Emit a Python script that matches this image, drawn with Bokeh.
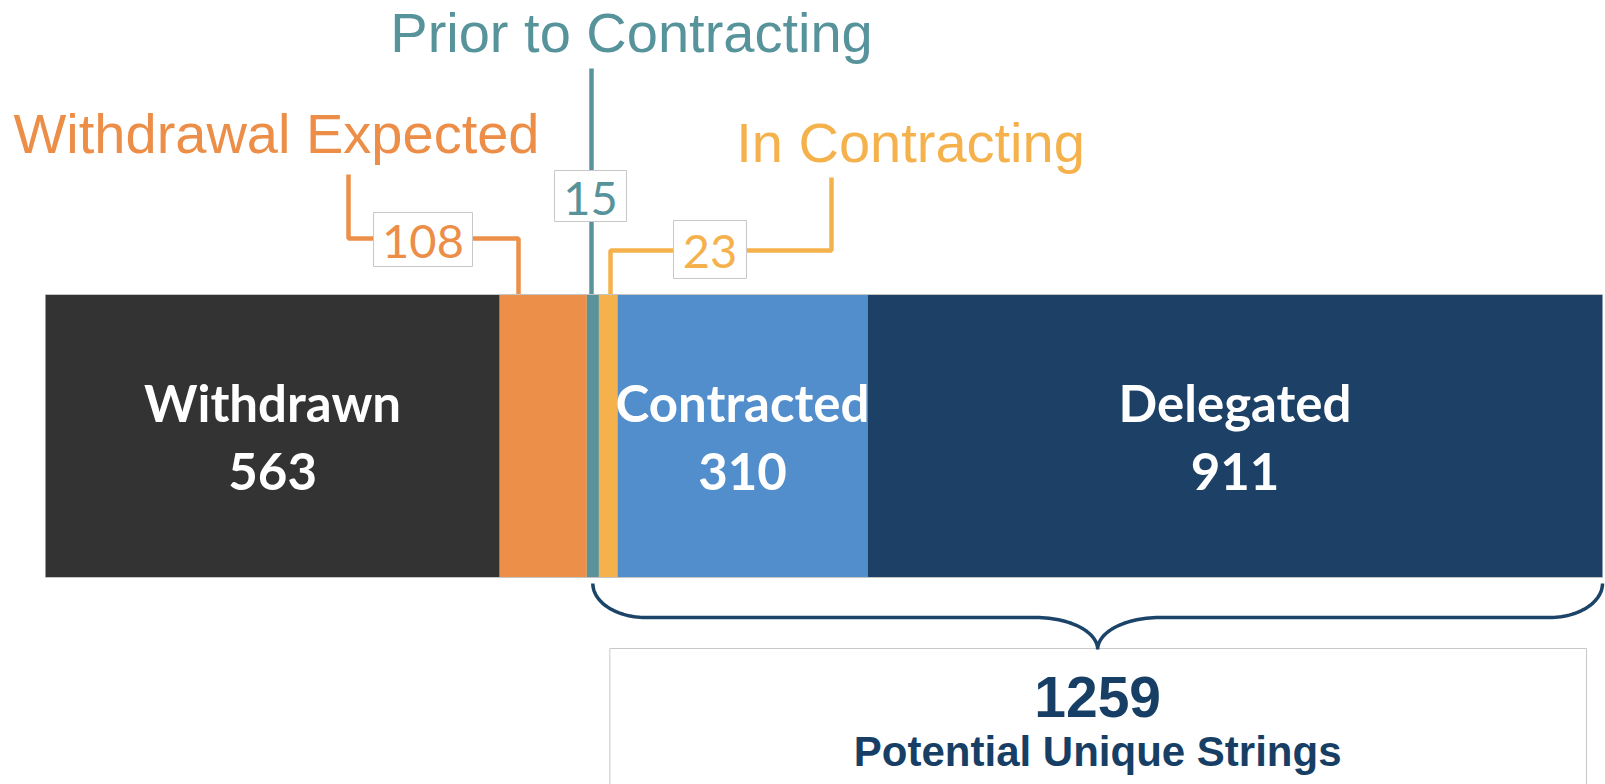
import numpy as np
from bokeh.plotting import figure
from bokeh.models import Range1d
from bokeh.core.properties import value
from bokeh.embed import file_html
from bokeh.resources import INLINE

# ---------------- data ----------------
categories = ["Withdrawn", "Withdrawal Expected", "Prior to Contracting",
              "In Contracting", "Contracted", "Delegated"]
counts = [563, 108, 15, 23, 310, 911]
bar_colors = ["#333333", "#EC9049", "#5A9399", "#F5B24C", "#528ECC", "#1D4066"]
inside_labels = ["Withdrawn", "Contracted", "Delegated"]          # drawn inside the bar
callout_labels = ["Withdrawal Expected", "Prior to Contracting", "In Contracting"]
callout_text_colors = ["#EC8E48", "#56939A", "#F5B24C"]
total_caption = "Potential Unique Strings"
bracket_from = "Prior to Contracting"   # the bracket covers this and all later segments

# ---------------- layout ----------------
W, H = 1605, 784
LEFT_PX, RIGHT_PX = 45, 1602
total = sum(counts)
k = (RIGHT_PX - LEFT_PX) / total
x0 = -LEFT_PX / k
x1 = x0 + W / k


def X(px):
    return x0 + px / k


p = figure(width=W, height=H, output_backend="svg", toolbar_location=None,
           x_range=Range1d(x0, x1), y_range=Range1d(H, 0),
           min_border=0, outline_line_color=None, background_fill_color="white")
p.axis.visible = False
p.grid.visible = False

ends = np.cumsum(counts)
starts = ends - np.array(counts)

BAR_TOP, BAR_BOT = 294, 577

# ---------------- callouts (leaders, boxes, numbers, titles) ----------------
callouts = {
    "Withdrawal Expected": dict(title=(276, 133),
                               path=[(348, 174), (348, 238), (518, 238), (518, BAR_TOP)],
                               box=(373, 472, 212, 266)),
    "Prior to Contracting": dict(title=(631, 32),
                                path=[(591, 68), (591, BAR_TOP)],
                                box=(554, 626, 170, 221)),
    "In Contracting": dict(title=(910, 142),
                          path=[(610, BAR_TOP), (610, 250), (831, 250), (831, 177)],
                          box=(673, 746, 220, 278)),
}

for lab, tcol in zip(callout_labels, callout_text_colors):
    i = categories.index(lab)
    c = callouts[lab]
    xs = [X(a) for a, b in c["path"]]
    ys = [b for a, b in c["path"]]
    p.line(xs, ys, line_color=bar_colors[i], line_width=4.5)
    l, r, t, b = c["box"]
    p.quad(left=[X(l)], right=[X(r)], top=[t], bottom=[b], fill_color="white",
           line_color="#c8c8c8", line_width=1)
    p.text(x=[X((l + r) / 2)], y=[(t + b) / 2 + 2], text=[str(counts[i])],
           text_color=tcol, text_font=value("Lato"), text_font_size="47px",
           text_align="center", text_baseline="middle")
    tx, ty = c["title"]
    p.text(x=[X(tx)], y=[ty], text=[lab], text_color=tcol,
           text_font=value("Liberation Sans"), text_font_size="56px",
           text_align="center", text_baseline="alphabetic")

# ---------------- stacked bar ----------------
p.hbar(y=[(BAR_TOP + BAR_BOT) / 2] * len(counts), left=starts, right=ends,
       height=BAR_BOT - BAR_TOP, fill_color=bar_colors, line_color=None)
p.segment(x0=[0, 0], x1=[total, total], y0=[BAR_TOP, BAR_BOT], y1=[BAR_TOP, BAR_BOT],
          line_color="#c4c4c4", line_width=1)

for lab in inside_labels:
    i = categories.index(lab)
    cx = (starts[i] + ends[i]) / 2
    p.text(x=[cx], y=[402], text=[lab], text_color="white",
           text_font=value("Lato"), text_font_style="bold", text_font_size="51px",
           text_align="center", text_baseline="alphabetic")
    p.text(x=[cx], y=[471], text=[str(counts[i])], text_color="white",
           text_font=value("Lato"), text_font_style="bold", text_font_size="51px",
           text_align="center", text_baseline="alphabetic")

# ---------------- bracket + total box ----------------
bi = categories.index(bracket_from)
sub_total = int(sum(counts[bi:]))
bl = LEFT_PX + starts[bi] * k + 6
br = LEFT_PX + total * k
bm = (bl + br) / 2
y_top, y_mid, y_tip = 583, 617, 649
rx, rm = 53, 62
th = np.linspace(0, np.pi / 2, 30)
seg1 = [(bl + rx - rx * np.cos(t), y_top + (y_mid - y_top) * np.sin(t)) for t in th]
seg2 = [(bm - rm + rm * np.sin(t), y_tip - (y_tip - y_mid) * np.cos(t)) for t in th]
seg3 = [(bm + rm - rm * np.sin(t), y_tip - (y_tip - y_mid) * np.cos(t)) for t in th[::-1]]
seg4 = [(br - rx + rx * np.cos(t), y_top + (y_mid - y_top) * np.sin(t)) for t in th[::-1]]
pts = seg1 + seg2 + seg3 + seg4

p.quad(left=[X(bl + 17)], right=[X(br - 16)], top=[y_tip - 1], bottom=[H + 40],
       fill_color="white", line_color="#c8c8c8", line_width=1)
p.line([X(a) for a, b in pts], [b for a, b in pts], line_color="#1B4468", line_width=3.5)

p.text(x=[X(bm)], y=[696], text=[str(sub_total)], text_color="#173F66",
       text_font=value("Liberation Sans"), text_font_style="bold", text_font_size="57px",
       text_align="center", text_baseline="alphabetic")
p.text(x=[X(bm)], y=[751], text=[total_caption], text_color="#173F66",
       text_font=value("Liberation Sans"), text_font_style="bold", text_font_size="42px",
       text_align="center", text_baseline="alphabetic")

open("out.html", "w").write(file_html(p, INLINE))
